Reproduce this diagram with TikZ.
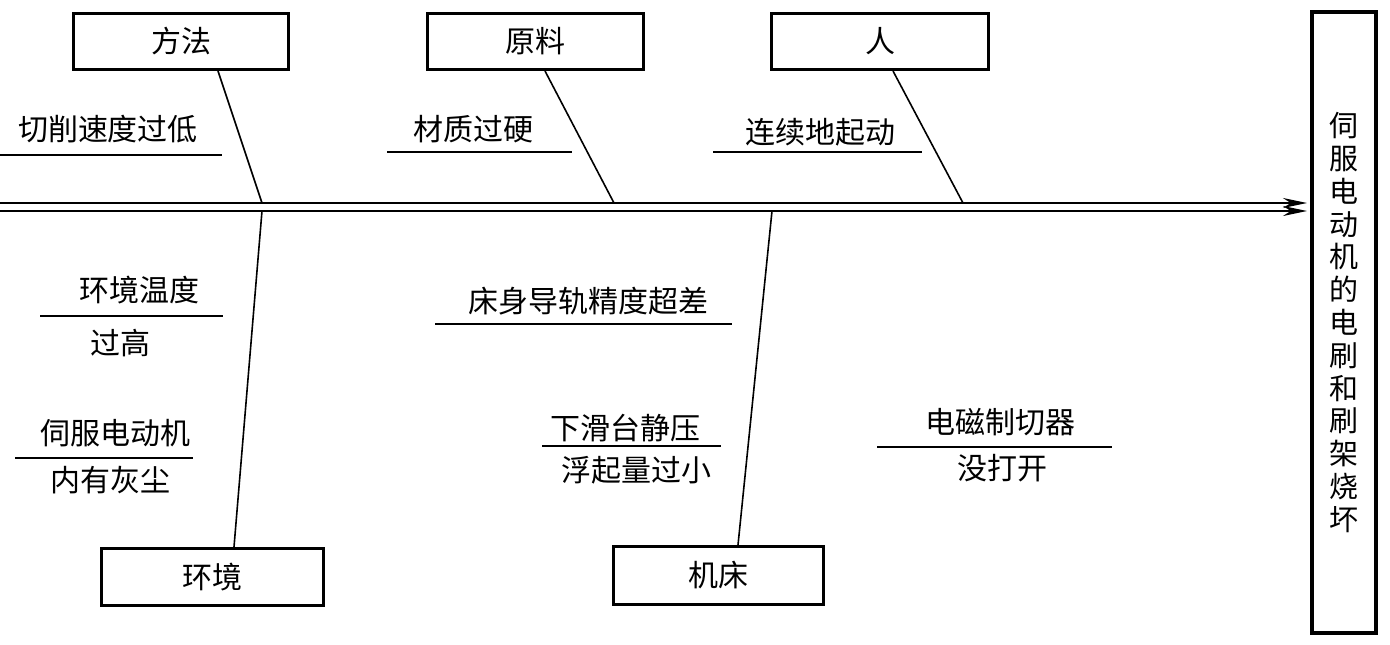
\documentclass[tikz,border=0pt]{standalone}
\usepackage{fontspec}
\newfontfamily\cjk{Noto Sans CJK SC}
\usetikzlibrary{positioning}
\usetikzlibrary{arrows.meta}

\begin{document}
\begin{tikzpicture}[
    x=1pt, y=-1pt,
    font=\cjk\fontsize{30}{33}\selectfont
]
\tikzset{
    catbox/.style = {draw=black, line width=3pt, inner sep=0pt, align=center},
    effbox/.style = {draw=black, line width=4pt, inner sep=0pt, align=center,
                     font=\cjk\fontsize{29}{32.8}\selectfont},
    cause/.style  = {inner sep=0pt, align=center},
    spine/.style  = {-{Stealth[length=24pt,width=10pt]}, line width=1.8pt},
    bone/.style   = {line width=1.6pt},
    uline/.style  = {line width=1.6pt}
}
\useasboundingbox (0,0) rectangle (1390,645);
% boxes
\node[catbox, minimum width=215pt, minimum height=56pt] at (181,41.5) (fangfa) {方法};
\node[catbox, minimum width=216pt, minimum height=56pt] at (535.5,41.5) (yuanliao) {原料};
\node[catbox, minimum width=217pt, minimum height=56pt] at (880,41.5) (ren) {人};
\node[catbox, minimum width=222pt, minimum height=57pt] at (212.5,577) (huanjing) {环境};
\node[catbox, minimum width=210pt, minimum height=58pt] at (718.5,575.5) (jichuang) {机床};
\node[effbox, minimum width=64pt, minimum height=621pt] at (1344,322.5) (effect)
    {伺\\服\\电\\动\\机\\的\\电\\刷\\和\\刷\\架\\烧\\坏};
% spine
\coordinate (t1) at (0,203);
\coordinate (h1) at (1307,203);
\coordinate (t2) at (0,211);
\coordinate (h2) at (1307,211);
\draw[spine] (t1) -- (h1);
\draw[spine] (t2) -- (h2);
% bones
\coordinate (fangfa-b) at (218,71);
\coordinate (yuanliao-b) at (545,71);
\coordinate (ren-b) at (893,71);
\coordinate (huanjing-b) at (234,547);
\coordinate (jichuang-b) at (738,545);
\coordinate (m1) at (262,203);
\coordinate (m2) at (614,203);
\coordinate (m3) at (963,203);
\coordinate (m4) at (262,211);
\coordinate (m5) at (772,211);
\draw[bone] (fangfa-b) -- (m1);
\draw[bone] (yuanliao-b) -- (m2);
\draw[bone] (ren-b) -- (m3);
\draw[bone] (huanjing-b) -- (m4);
\draw[bone] (jichuang-b) -- (m5);
% causes
\node[cause] at (108,129) (c1) {切削速度过低};
\node[cause] at (473,129) (c2) {材质过硬};
\node[cause] at (820,132) (c3) {连续地起动};
\node[cause] at (139,290) (c4a) {环境温度};
\node[cause] at (120,343) (c4b) {过高};
\node[cause] at (115,433) (c5a) {伺服电动机};
\node[cause] at (110,480) (c5b) {内有灰尘};
\node[cause] at (588,301) (c6) {床身导轨精度超差};
\node[cause] at (625,428) (c7a) {下滑台静压};
\node[cause] at (636,470) (c7b) {浮起量过小};
\node[cause] at (1000,422) (c8a) {电磁制切器};
\node[cause] at (1002,468) (c8b) {没打开};
% underlines
\coordinate (u1l) at (0,155);   \coordinate (u1r) at (222,155);
\coordinate (u2l) at (387,152); \coordinate (u2r) at (572,152);
\coordinate (u3l) at (713,152); \coordinate (u3r) at (922,152);
\coordinate (u4l) at (40,316);  \coordinate (u4r) at (223,316);
\coordinate (u5l) at (15,458);  \coordinate (u5r) at (193,458);
\coordinate (u6l) at (435,324); \coordinate (u6r) at (732,324);
\coordinate (u7l) at (542,446); \coordinate (u7r) at (721,446);
\coordinate (u8l) at (877,447); \coordinate (u8r) at (1112,447);
\draw[uline] (u1l) -- (u1r);
\draw[uline] (u2l) -- (u2r);
\draw[uline] (u3l) -- (u3r);
\draw[uline] (u4l) -- (u4r);
\draw[uline] (u5l) -- (u5r);
\draw[uline] (u6l) -- (u6r);
\draw[uline] (u7l) -- (u7r);
\draw[uline] (u8l) -- (u8r);
\end{tikzpicture}
\end{document}
